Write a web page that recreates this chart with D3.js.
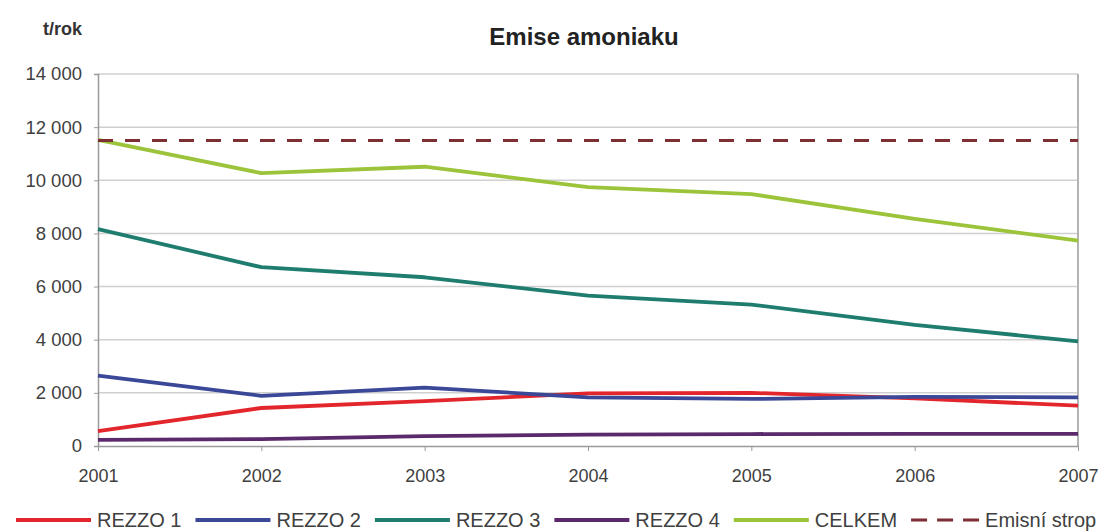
<!DOCTYPE html>
<html>
<head>
<meta charset="utf-8">
<script src="https://cdn.jsdelivr.net/npm/d3@7"></script>
<style>
  html, body { margin: 0; padding: 0; background: #fff; }
  svg { display: block; font-family: "Liberation Sans", Arial, sans-serif; }
</style>
</head>
<body>
<svg id="chart" width="1101" height="532"></svg>
<script>
// Roční emise amoniaku podle kategorií zdrojů (t/rok)
const years = ["2001", "2002", "2003", "2004", "2005", "2006", "2007"];
const rezzo1 = [560, 1430, 1690, 1980, 2000, 1790, 1520];
const rezzo2 = [2650, 1890, 2200, 1830, 1770, 1850, 1830];
const rezzo3 = [8160, 6730, 6350, 5660, 5320, 4560, 3940];
const rezzo4 = [230, 260, 370, 430, 450, 460, 460];
const celkem = [11520, 10270, 10510, 9740, 9480, 8550, 7730];
const emisniStrop = [11500, 11500, 11500, 11500, 11500, 11500, 11500];
const yTicks = [0, 2000, 4000, 6000, 8000, 10000, 12000, 14000];

const series = [
  { name: "REZZO 1", values: rezzo1, color: "#e3262c", dash: null },
  { name: "REZZO 2", values: rezzo2, color: "#3a4897", dash: null },
  { name: "REZZO 3", values: rezzo3, color: "#1e7d6f", dash: null },
  { name: "REZZO 4", values: rezzo4, color: "#5a2a6c", dash: null },
  { name: "CELKEM", values: celkem, color: "#9bc43a", dash: null },
  { name: "Emisní strop", values: emisniStrop, color: "#7e2f34", dash: "15,12" }
];

const svg = d3.select("#chart");
const plot = { left: 98, right: 1078, top: 74, bottom: 446 };

const x = d3.scalePoint().domain(years).range([plot.left, plot.right]);
const y = d3.scaleLinear().domain([0, 14000]).range([plot.bottom, plot.top]);

// gridlines
svg.append("g")
  .selectAll("line")
  .data(yTicks.filter(t => t > 0))
  .join("line")
  .attr("x1", plot.left).attr("x2", plot.right)
  .attr("y1", d => y(d)).attr("y2", d => y(d))
  .attr("stroke", "#d0d0d0").attr("stroke-width", 1.5);

// right frame edge
svg.append("line")
  .attr("x1", plot.right).attr("x2", plot.right).attr("y1", plot.top).attr("y2", plot.bottom)
  .attr("stroke", "#b4b4b4").attr("stroke-width", 2);

// y axis
const yAxis = svg.append("g")
  .attr("transform", `translate(${plot.left},0)`)
  .call(d3.axisLeft(y).tickValues(yTicks).tickSize(4).tickPadding(12)
    .tickFormat(d => d3.format(",")(d).replace(",", " ")));
yAxis.select(".domain").attr("stroke", "#9a9a9a").attr("stroke-width", 1.5);
yAxis.selectAll(".tick line").attr("stroke", "#9a9a9a");
yAxis.selectAll("text").attr("font-size", 18.5).attr("fill", "#404040")
  .attr("font-family", "Liberation Sans, Arial, sans-serif");

// x axis
const xAxis = svg.append("g")
  .attr("transform", `translate(0,${plot.bottom})`)
  .call(d3.axisBottom(x).tickSize(5).tickPadding(18).tickSizeOuter(0));
xAxis.select(".domain").attr("stroke", "#9a9a9a").attr("stroke-width", 1.5);
xAxis.selectAll(".tick line").attr("stroke", "#9a9a9a");
xAxis.selectAll("text").attr("font-size", 18).attr("fill", "#404040")
  .attr("font-family", "Liberation Sans, Arial, sans-serif");

// series lines
const line = d3.line().x((d, i) => x(years[i])).y(d => y(d));
svg.append("g")
  .selectAll("path")
  .data(series)
  .join("path")
  .attr("d", d => line(d.values))
  .attr("fill", "none")
  .attr("stroke", d => d.color)
  .attr("stroke-width", d => d.dash ? 3 : 3.8)
  .attr("stroke-dasharray", d => d.dash)
  .attr("stroke-linejoin", "round");

// title and unit
svg.append("text")
  .attr("x", 584).attr("y", 45)
  .attr("text-anchor", "middle")
  .attr("font-size", 24).attr("font-weight", "bold").attr("fill", "#222")
  .text("Emise amoniaku");
svg.append("text")
  .attr("x", 82).attr("y", 35)
  .attr("text-anchor", "end")
  .attr("font-size", 18).attr("font-weight", "bold").attr("fill", "#333")
  .text("t/rok");

// legend: solid swatches 75px, the dashed one three dashes
const legend = svg.append("g").attr("transform", "translate(16,520)");
let lx = 0;
series.forEach(s => {
  const len = s.dash ? 68 : 75;
  legend.append("line")
    .attr("x1", lx).attr("x2", lx + len).attr("y1", 0).attr("y2", 0)
    .attr("stroke", s.color).attr("stroke-width", s.dash ? 3 : 3.8)
    .attr("stroke-dasharray", s.dash ? "16,10" : null);
  const t = legend.append("text")
    .attr("x", lx + len + 6).attr("y", 0).attr("dy", "0.35em")
    .attr("font-size", 20).attr("fill", "#404040")
    .text(s.name);
  lx += len + 6 + t.node().getComputedTextLength() + 14;
});
</script>
</body>
</html>
